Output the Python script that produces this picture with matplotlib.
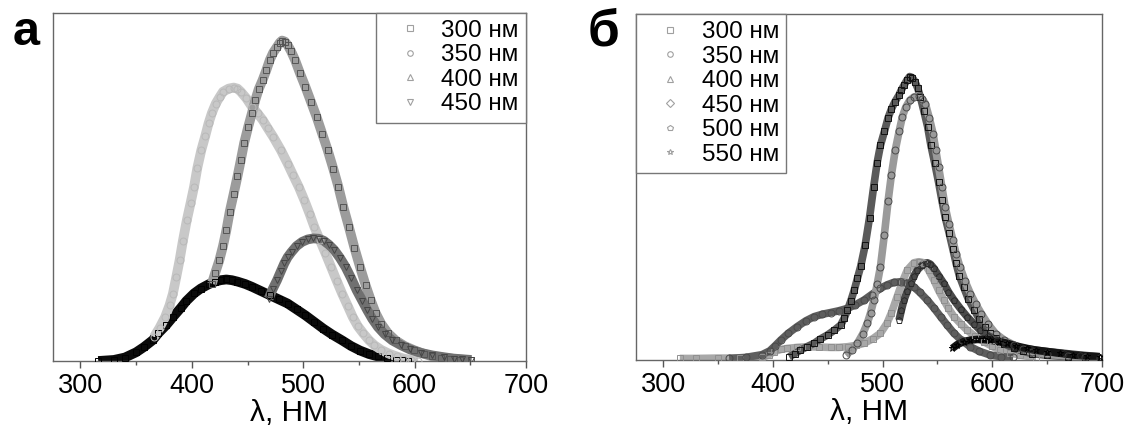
import matplotlib
matplotlib.use("Agg")
import matplotlib.pyplot as plt
from matplotlib.lines import Line2D

plt.rcParams['font.family'] = ['Liberation Sans', 'DejaVu Sans']

# ---- panel a: emission spectra, excitation 300..450 nm ----
a300_x = [316, 330, 340, 350, 357, 365, 370, 377, 383, 390, 395, 402, 408, 415, 421, 426, 431, 436, 441, 448,
          454, 462, 470, 478, 486, 494, 502, 510, 518, 526, 535, 543, 551, 559, 567, 575, 583, 590, 594]
a300_y = [0, 0.3, 1, 2.5, 4, 6, 8, 10.3, 12.6, 15.2, 17.2, 19.4, 20.8, 22, 22.8, 23.2, 23.4, 23.2, 22.8, 22.1,
          21.3, 20.1, 18.9, 17.7, 16.5, 14.8, 13.1, 11.2, 9.3, 7.6, 5.9, 4.3, 3.0, 2.0, 1.3, 0.8, 0.4, 0.15, 0]

a350_x = [366, 371, 376, 380, 383, 386, 389, 392, 395.5, 399, 402, 405, 408.5, 412, 415, 418, 421.5, 425, 428,
          433, 437.6, 441, 444, 449, 454, 459, 463.6, 468, 473, 480, 486, 491, 496, 501, 505.7, 510, 515, 520,
          525, 530, 535, 540, 544.5, 549, 554, 559, 564, 570, 577, 584, 590, 597, 603]
a350_y = [6.9, 9.5, 12.6, 16, 19.3, 24, 28.9, 34.5, 40.4, 45.5, 50, 55.5, 60.5, 64.5, 68.2, 71.2, 73.9, 75.8,
          77.3, 78.2, 78.5, 78.2, 77.3, 75.4, 73, 71.1, 69.2, 66.9, 64.4, 60.5, 56.7, 53.3, 50, 46.2, 42.3,
          38.5, 34.7, 30.9, 27, 23.1, 19.3, 15.8, 12.6, 10, 7.9, 6, 4.5, 3.2, 2.1, 1.3, 0.7, 0.3, 0]

a400_x = [418, 421, 424.7, 428, 431, 434, 437.6, 441, 444, 447, 450.6, 454, 457, 460, 463.6, 467, 470, 473,
          476.5, 479, 481, 483.5, 486, 489, 492.7, 497, 502, 507, 512, 517, 522, 527, 531.6, 536, 541, 546,
          551, 556, 560.7, 565, 570, 576, 583, 591, 599.6, 608, 616, 624, 632, 641, 651]
a400_y = [22.2, 25.3, 28.9, 33, 37.5, 42.8, 48, 53, 57.7, 62.6, 67.2, 71.2, 74.9, 78, 80.7, 83.6, 86.4, 88.5,
          90.2, 91.4, 92, 91.7, 90.7, 89, 86.4, 82.7, 78.7, 74.4, 70.1, 65.3, 60.5, 55.2, 50, 44.3, 38.5,
          32.5, 27, 21.8, 17.4, 13.8, 10.7, 8, 5.9, 4.3, 3.1, 2.1, 1.3, 1.0, 0.7, 0.4, 0.2]

a450_x = [469, 472.5, 476.5, 480, 483, 486, 489.5, 494, 499, 504, 509, 514, 518.6, 523, 528, 533, 538, 543,
          548, 553, 557.5, 562, 567, 573, 580, 588, 596, 606, 616, 626, 635, 643, 651]
a450_y = [17.9, 20.6, 23.2, 25.8, 28, 29.8, 31.3, 33, 34.2, 34.9, 35.2, 35.1, 34.5, 33.4, 31.8, 29.6, 27,
          23.8, 20.3, 17.3, 14.6, 12.1, 9.8, 7.7, 5.9, 4.5, 3.3, 2.3, 1.6, 1.1, 0.7, 0.5, 0.3]

# ---- panel b: excitation 300..550 nm ----
b300_x = [315, 330, 350, 370, 390, 396, 401, 407, 413, 422, 431.5, 442, 452.7, 460, 468, 476, 483, 491, 498,
          504, 508, 513, 518, 522.5, 528.5, 533, 537.6, 542, 546.7, 551, 555.8, 560, 565, 571, 577, 584, 592,
          600, 607, 616, 625, 640]
b300_y = [0.3, 0.3, 0.4, 0.4, 0.6, 1.3, 2.3, 2.9, 3.2, 3.5, 3.7, 3.6, 3.5, 3.5, 3.7, 4.1, 4.7, 6, 7.6, 10.5,
          13.5, 18, 22.5, 25.9, 28, 28.3, 28, 25.8, 23, 20, 17.2, 14.8, 12.4, 10.4, 8.5, 6.8, 5.2, 3.8, 2.7,
          1.9, 1.3, 0.5]

b350_x = [360, 375, 390, 397, 402, 407, 414, 422, 430, 437.5, 445, 452.7, 460, 467.9, 475, 483, 490, 498,
          504, 510, 516.4, 522, 528.5, 534, 540.7, 547, 552.8, 559, 565, 572, 580, 588, 598, 608, 619]
b350_y = [0.3, 0.6, 1.4, 2.5, 4, 5.6, 7.6, 9.5, 11.2, 12.4, 13.1, 13.6, 14.1, 14.8, 15.8, 17.2, 18.8, 20.6,
          21.6, 22.3, 22.5, 22.1, 21, 19.4, 17.2, 14.8, 12.4, 9.9, 7.6, 5.5, 3.7, 2.4, 1.3, 0.8, 0.6]

b400_x = [414.7, 420, 425, 431, 437.5, 443, 449.7, 456, 461.8, 465, 467.9, 471, 474, 477, 480, 484, 488,
          491.8, 495, 498, 501.6, 505, 508, 511, 514.8, 517, 519.7, 522, 524.6, 527, 529.5, 532, 534.4, 537.5,
          541, 544, 547.5, 551, 554, 557, 560.7, 564, 567, 570, 573.8, 578, 583.6, 588, 593.4, 598, 603, 611,
          619.7, 628, 636, 650, 669, 685, 698]
b400_y = [0.8, 1.7, 2.7, 3.7, 4.7, 5.9, 7.1, 8.5, 10, 12, 14.3, 17, 20, 23.5, 27, 33, 41, 50, 57, 62, 66, 70,
          72.5, 74.5, 76.5, 78, 79.5, 80.8, 81.9, 81.6, 80.4, 78.5, 76, 72, 67.4, 62, 56.8, 51.3, 46.1, 41.2,
          36.5, 32, 27.8, 24.2, 21, 17.6, 14.3, 11.8, 9.5, 7.7, 6.1, 4.5, 3.2, 2.4, 1.7, 1.2, 0.8, 0.6, 0.5]

b450_x = [466.3, 472, 477, 482, 486, 489, 492, 495, 498, 501.5, 505, 508, 511.5, 515, 518, 521, 524.6, 528.5,
          532.8, 536, 539, 542.5, 546, 548.5, 551, 554, 557, 560.5, 564, 567, 570.5, 575, 580, 585, 590, 596,
          603, 611, 619.7, 628, 636, 650, 669, 685, 698]
b450_y = [1.3, 2.8, 4.7, 7.5, 10.5, 13.5, 17.2, 21.8, 26.9, 36, 46, 53.5, 60.6, 66, 70.3, 73, 75, 76, 76.3,
          75.5, 74, 70, 65.4, 60.5, 55.8, 50, 44.2, 39.2, 34.6, 30.6, 26.8, 22.8, 19.1, 16, 13.3, 10.3, 7.5,
          5.6, 4.2, 3.1, 2.2, 1.5, 1, 0.7, 0.5]

b500_x = [515, 517, 519.4, 522.5, 525.5, 528.5, 531.6, 536, 540.7, 543.5, 546.7, 551, 555.8, 560, 565, 571,
          577, 583, 589, 596, 604, 612, 619.5, 635, 650, 665, 680, 698]
b500_y = [11.4, 14.2, 17.2, 19.8, 22, 24.2, 25.9, 27.3, 28, 27.6, 26.4, 24.3, 22, 19.6, 17.2, 14.7, 12.4,
          10.4, 8.5, 6.9, 5.6, 4.6, 3.7, 2.9, 2.3, 1.8, 1.3, 0.8]

b550_x = [563.5, 568, 574, 580, 586, 592, 598, 606, 613.5, 622, 631.7, 640, 650, 662, 674, 686, 698]
b550_y = [3.2, 4.3, 5.2, 5.6, 5.8, 5.8, 5.6, 5.2, 4.7, 3.9, 3.2, 2.7, 2.3, 1.8, 1.3, 1.0, 0.8]

labels_a = ['300 нм', '350 нм', '400 нм', '450 нм']
labels_b = ['300 нм', '350 нм', '400 нм', '450 нм', '500 нм', '550 нм']

series_a = [(a300_x, a300_y), (a350_x, a350_y), (a400_x, a400_y), (a450_x, a450_y)]
series_b = [(b300_x, b300_y), (b350_x, b350_y), (b400_x, b400_y),
            (b450_x, b450_y), (b500_x, b500_y), (b550_x, b550_y)]

# line colour, marker edge colour, marker
style_a = [('#0a0a0a', '#000000', 's'), ('#c8c8c8', '#b8b8b8', 'o'),
           ('#9c9c9c', '#555555', 's'), ('#707070', '#454545', 'v')]
style_b = [('#a8a8a8', '#909090', 's'), ('#5e5e5e', '#4a4a4a', 'o'), ('#5a5a5a', '#111111', 's'),
           ('#9a9a9a', '#4a4a4a', 'o'), ('#4a4a4a', '#2a2a2a', 'p'), ('#151515', '#000000', '*')]
leg_markers_a = ['s', 'o', '^', 'v']
leg_markers_b = ['s', 'o', '^', 'D', 'p', '*']

fig = plt.figure(figsize=(11.28, 4.26), dpi=100)
ax1 = fig.add_axes([0.0466, 0.1526, 0.4197, 0.8176])
ax2 = fig.add_axes([0.5638, 0.1561, 0.4131, 0.8110])


def draw(ax, series, styles, leg_markers, labels, loc, lw):
    for (x, y), (c, ec, m) in zip(series, styles):
        ax.plot(x, y, color=c, lw=lw, solid_capstyle='butt', solid_joinstyle='round', zorder=2)
        ax.plot(x, y, ls='none', marker=m, ms=5, mfc='none', mec=ec, mew=0.7, zorder=3)
    ax.set_xlim(275, 700)
    ax.set_ylim(0, 100)
    ax.set_yticks([])
    ax.set_xticks([300, 400, 500, 600, 700])
    ax.set_xticks([350, 450, 550, 650], minor=True)
    ax.tick_params(axis='x', which='major', length=5, width=1, color='#555555', labelsize=19.5, pad=4)
    ax.tick_params(axis='x', which='minor', length=3, width=1, color='#555555')
    for s in ax.spines.values():
        s.set_color('#666666')
        s.set_linewidth(1)
    ax.set_xlabel('λ, НМ', fontsize=21.5, labelpad=0)
    handles = [Line2D([], [], ls='none', marker=mk, ms=4, mfc='none', mec='#a0a0a0', mew=0.8)
               for mk in leg_markers]
    leg = ax.legend(handles, labels, loc=loc, borderaxespad=0, fontsize=17.5, fancybox=False,
                    handlelength=2.2, handletextpad=0.2, borderpad=0.3, labelspacing=0.1,
                    edgecolor='#777777', framealpha=1)
    leg.get_frame().set_linewidth(1)


draw(ax1, series_a, style_a, leg_markers_a, labels_a, 'upper right', 7)
draw(ax2, series_b, style_b, leg_markers_b, labels_b, 'upper left', 5.5)

fig.text(0.011, 0.894, 'а', fontsize=35, fontweight='bold')
fig.text(0.521, 0.894, 'б', fontsize=37, fontweight='bold')

fig.savefig('out.png', dpi=100)
